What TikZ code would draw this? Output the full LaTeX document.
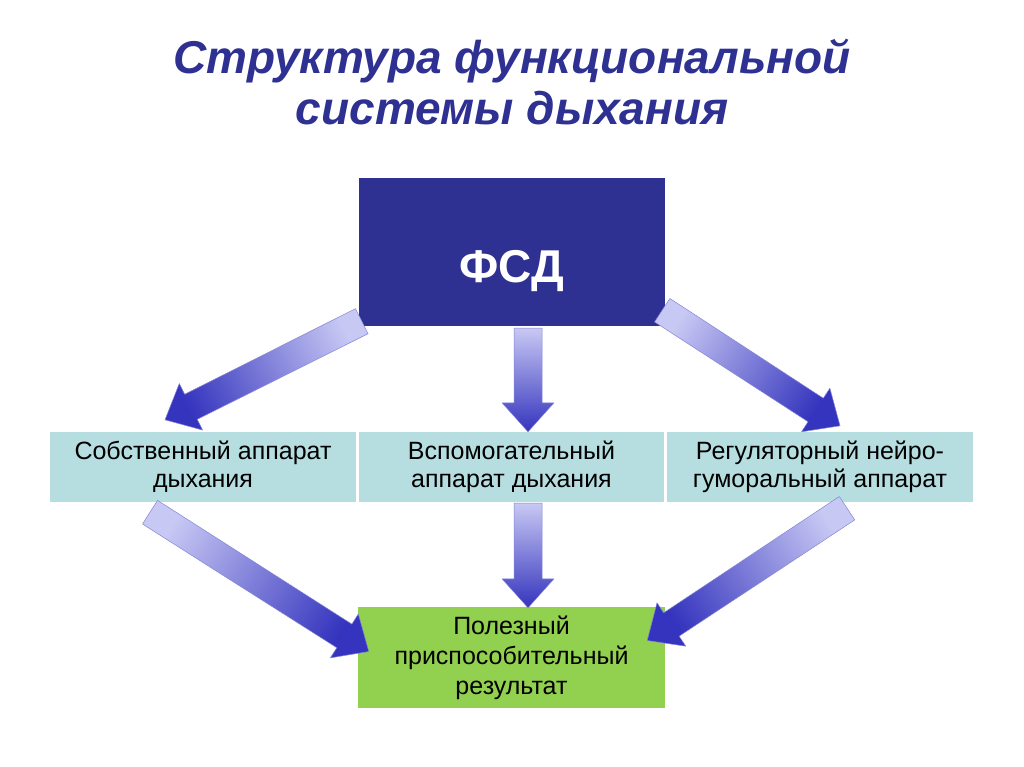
\documentclass[tikz,border=0pt]{standalone}
\usepackage{fontspec}
\setmainfont{Liberation Sans}
\usetikzlibrary{calc}
\definecolor{fsd-blue}{HTML}{2E3192}
\definecolor{row-teal}{HTML}{B6DEE1}
\definecolor{res-green}{HTML}{92D050}
\definecolor{arrow-light}{HTML}{C8C8F4}
\definecolor{arrow-dark}{HTML}{3434BE}

\tikzset{
  box/.style={inner sep=0pt, align=center, minimum width=306pt},
  rowbox/.style={box, fill=row-teal, minimum height=70pt,
                 font=\fontsize{25}{28}\selectfont},
  fatarrow/.style={top color=arrow-light, bottom color=arrow-dark,
                   draw=arrow-dark!60, line width=0.5pt, line join=round}
}

% block arrow: tail, tip, shading angle
\newcommand{\fatarrow}[3]{%
  \coordinate (hb) at ($(#2)!29pt!(#1)$);
  \shade[fatarrow, shading angle=#3]
    ($(#1)!14pt!90:(#2)$) -- ($(hb)!14pt!90:(#2)$) -- ($(hb)!26pt!90:(#2)$)
    -- (#2) -- ($(hb)!26pt!-90:(#2)$) -- ($(hb)!14pt!-90:(#2)$)
    -- ($(#1)!14pt!-90:(#2)$) -- cycle;
}

\begin{document}
\begin{tikzpicture}[x=1pt, y=-1pt]
  \useasboundingbox (0,0) rectangle (1024,767);
  \fill[white] (0,0) rectangle (1024,767);

  \node[font=\fontsize{46}{51}\selectfont\bfseries\itshape, text=fsd-blue,
        align=center] (title) at (512,82)
        {Структура функциональной\\системы дыхания};

  \node[box, fill=fsd-blue, minimum height=148pt, text=white,
        font=\fontsize{46}{50}\selectfont\bfseries,
        text height=60pt, text depth=0pt] (fsd) at (512,252) {ФСД};

  \node[rowbox] (own) at (203,467) {Собственный аппарат\\дыхания};
  \node[rowbox, minimum width=305pt] (aux) at (511.5,467)
        {Вспомогательный\\аппарат дыхания};
  \node[rowbox] (reg) at (820,467) {Регуляторный нейро-\\гуморальный аппарат};

  \node[box, fill=res-green, minimum width=307pt, minimum height=101pt,
        font=\fontsize{25}{30}\selectfont] (res) at (511.5,657.5)
        {Полезный\\приспособительный\\результат};

  % arrow ends
  \coordinate (t1) at ($(fsd.south west)+(3,-5)$);
  \coordinate (e1) at ($(own.north)+(-38,-12)$);
  \coordinate (t2) at ($(fsd.south)+(16,2)$);
  \coordinate (e2) at ($(aux.north)+(16.5,0)$);
  \coordinate (t3) at ($(fsd.south east)+(-3,-16)$);
  \coordinate (e3) at ($(reg.north)+(20,-6)$);
  \coordinate (t4) at ($(own.south)+(-53,10)$);
  \coordinate (e4) at ($(res.west)+(11,-6)$);
  \coordinate (t5) at ($(aux.south)+(16.5,1)$);
  \coordinate (e5) at ($(res.north)+(16.5,1)$);
  \coordinate (t6) at ($(reg.south)+(27,6)$);
  \coordinate (e6) at ($(res.east)+(-18,-17)$);

  \fatarrow{t1}{e1}{296.7}
  \fatarrow{t2}{e2}{0}
  \fatarrow{t3}{e3}{56.9}
  \fatarrow{t4}{e4}{57.6}
  \fatarrow{t5}{e5}{0}
  \fatarrow{t6}{e6}{303.4}
\end{tikzpicture}
\end{document}
